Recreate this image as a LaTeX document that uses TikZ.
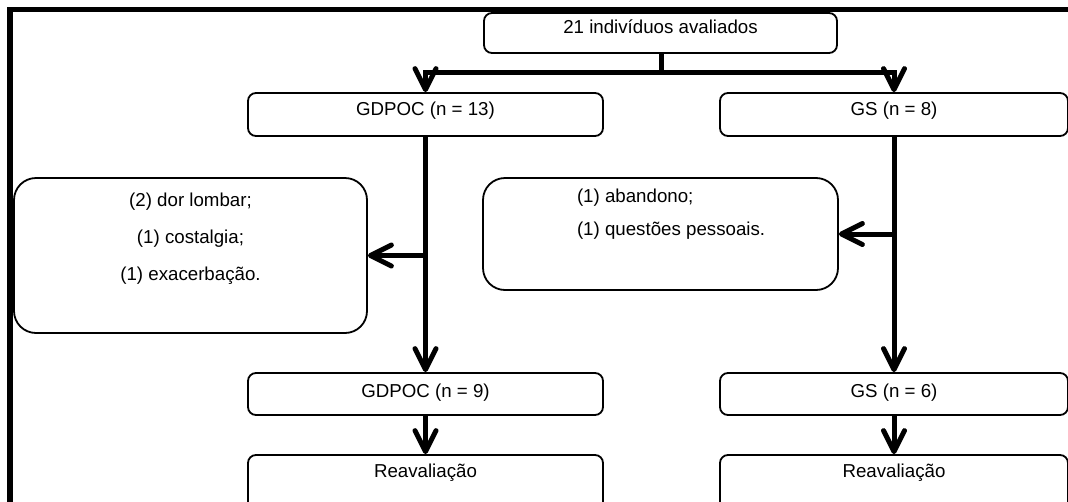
\documentclass[tikz,border=0pt]{standalone}
\usepackage{fontspec}
\setmainfont{Liberation Sans}
\usetikzlibrary{arrows.meta}
% #1 width, #2 height, #3 first baseline from top, #4 text, #5 baselineskip
\newcommand\bxt[5]{\parbox[c][#2][t]{#1}{\centering\baselineskip=#5\relax\rule{0pt}{#3}#4\par}}
\newcommand\bxl[6]{\parbox[c][#2][t]{#1}{\raggedright\leftskip=#6\relax\baselineskip=#5\relax\rule{0pt}{#3}#4\par}}
\tikzset{
  box/.style={draw, line width=1.8pt, rounded corners=8pt, inner sep=0pt, font=\fontsize{18.7}{22}\selectfont},
  bigbox/.style={box, rounded corners=22pt},
  ln/.style={line width=5pt},
  ar/.style={ln, -{Straight Barb[length=21pt,width=21pt,round]}},
  frame/.style={line width=5.5pt}
}
\begin{document}
\begin{tikzpicture}[x=1pt,y=-1pt]
\useasboundingbox (0,0) rectangle (1068,501);
\clip (0,0) rectangle (1068,501);
\draw[frame] (10,9.5) rectangle (1200,600);

\node[box] (top) at (660.5,33) {\bxt{353pt}{40pt}{20pt}{21 indivíduos avaliados}{20pt}};
\node[box] (g1) at (425.5,114.5) {\bxt{355pt}{43pt}{22pt}{GDPOC (n = 13)}{20pt}};
\node[box] (g2) at (894,114.5) {\bxt{348pt}{43pt}{22pt}{GS (n = 8)}{20pt}};
\node[bigbox] (s1) at (190.5,255.5) {\bxt{353pt}{155pt}{28pt}{(2) dor lombar;\\(1) costalgia;\\(1) exacerbação.}{37pt}};
\node[bigbox] (s2) at (660.5,234) {\bxl{355pt}{112pt}{24pt}{(1) abandono;\\(1) questões pessoais.}{33pt}{94pt}};
\node[box] (g1b) at (425.5,394) {\bxt{355pt}{42pt}{24pt}{GDPOC (n = 9)}{20pt}};
\node[box] (g2b) at (894,394) {\bxt{348pt}{42pt}{24pt}{GS (n = 6)}{20pt}};
\node[box] (r1) at (425.5,485) {\bxt{355pt}{60pt}{22pt}{Reavaliação}{20pt}};
\node[box] (r2) at (894,485) {\bxt{348pt}{60pt}{22pt}{Reavaliação}{20pt}};

\coordinate (j) at (661,72);
\draw[ln] (top.south -| j) -- (j);
\draw[ar] (j) -| (g1.north);
\draw[ar] (j) -| (g2.north);
\draw[ar] (g1.south) -- (g1b.north);
\draw[ar] (g2.south) -- (g2b.north);
\draw[ar] (g1.south |- s1.east) -- (s1.east);
\draw[ar] (g2.south |- s2.east) -- (s2.east);
\draw[ar] (g1b.south) -- (r1.north);
\draw[ar] (g2b.south) -- (r2.north);
\end{tikzpicture}
\end{document}
